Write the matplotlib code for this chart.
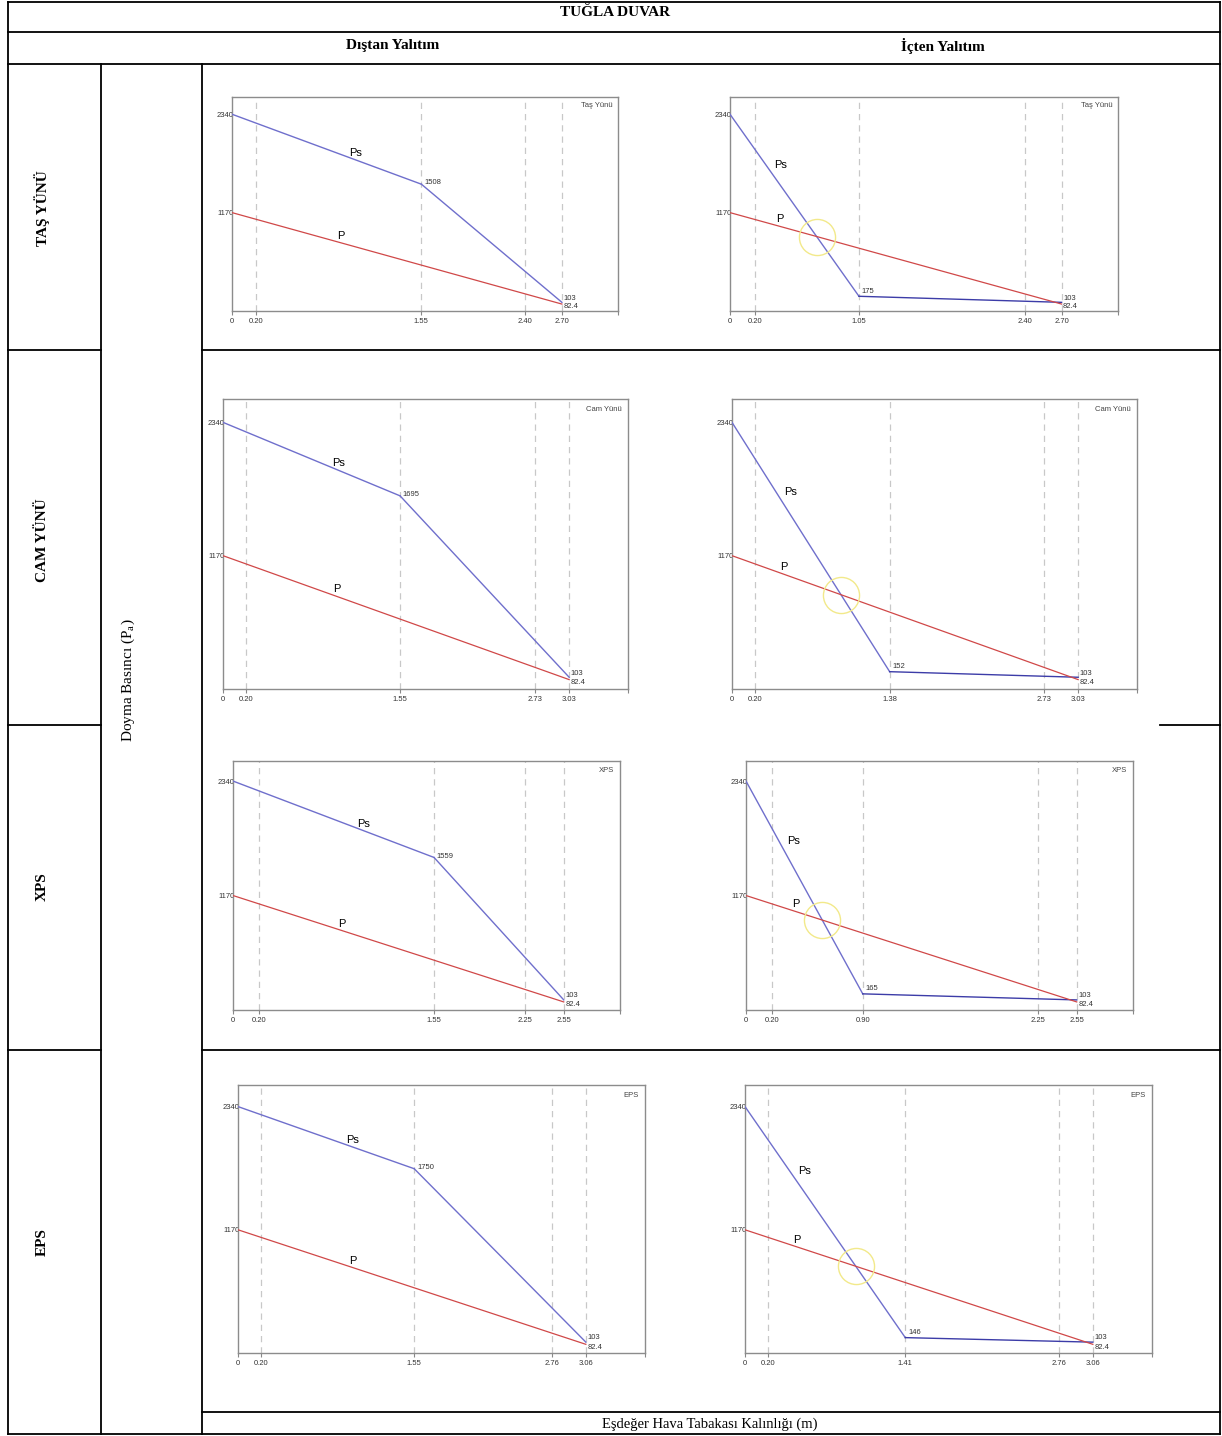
import numpy as np
import matplotlib
matplotlib.use("Agg")
import matplotlib.pyplot as plt
from matplotlib.lines import Line2D

plt.rcParams['font.family'] = ['Liberation Sans', 'DejaVu Sans']
plt.rcParams['mathtext.fontset'] = 'custom'
plt.rcParams['mathtext.rm'] = 'Liberation Serif'

# data
title = 'TUĞLA DUVAR'
col_titles = ['Dıştan Yalıtım', 'İçten Yalıtım']
row_labels = ['TAŞ YÜNÜ', 'CAM YÜNÜ', 'XPS', 'EPS']
materials = ['Taş Yünü', 'Cam Yünü', 'XPS', 'EPS']
ylabel = 'Doyma Basıncı (P$_\\mathrm{a}$)'
xlabel = 'Eşdeğer Hava Tabakası Kalınlığı (m)'

ps_start = 2340
p_start = 1170
ps_end = 103
p_end = 82.4

dis_ticks = [[0, 0.20, 1.55, 2.40, 2.70],
             [0, 0.20, 1.55, 2.73, 3.03],
             [0, 0.20, 1.55, 2.25, 2.55],
             [0, 0.20, 1.55, 2.76, 3.06]]
dis_knee = [1508, 1695, 1559, 1750]

ic_ticks = [[0, 0.20, 1.05, 2.40, 2.70],
            [0, 0.20, 1.38, 2.73, 3.03],
            [0, 0.20, 0.90, 2.25, 2.55],
            [0, 0.20, 1.41, 2.76, 3.06]]
ic_knee = [175, 152, 165, 146]

W, H = 1222, 1436
fig = plt.figure(figsize=(W / 100, H / 100), dpi=100)

def px_line(x0, y0, x1, y1):
    fig.add_artist(Line2D([x0 / W, x1 / W], [1 - y0 / H, 1 - y1 / H],
                          transform=fig.transFigure, color='black', lw=1.3))

def px_text(x, y, s, **kw):
    fig.text(x / W, 1 - y / H, s, ha='center', va='center', **kw)

# table frame
for y in [2, 32, 64, 1434]:
    px_line(8, y, 1220, y)
for y in [350, 725, 1050]:
    px_line(8, y, 101, y)
px_line(202, 350, 1220, 350)
px_line(1160, 725, 1220, 725)
px_line(202, 1050, 1220, 1050)
px_line(202, 1412, 1220, 1412)
px_line(8, 2, 8, 1434)
px_line(1220, 2, 1220, 1434)
px_line(101, 64, 101, 1434)
px_line(202, 64, 202, 1434)

serif = ['Liberation Serif', 'DejaVu Serif']
px_text(615, 13, title, family=serif, weight='bold', fontsize=11)
px_text(393, 46, col_titles[0], family=serif, weight='bold', fontsize=11)
px_text(943, 46, col_titles[1], family=serif, weight='bold', fontsize=11)
for lab, yc in zip(row_labels, [208, 540, 887, 1242]):
    px_text(42, yc, lab, family=serif, weight='bold', fontsize=11, rotation=90)
px_text(128, 680, ylabel, family=serif, fontsize=11, rotation=90)
px_text(710, 1424, xlabel, family=serif, fontsize=10.5)

# axes boxes in pixels: left, top, right, bottom
boxes = [[(232, 97, 618, 311), (730, 97, 1118, 311)],
         [(223, 399, 628, 689), (732, 399, 1137, 689)],
         [(233, 761, 620, 1010), (746, 761, 1133, 1010)],
         [(238, 1085, 645, 1353), (745, 1085, 1152, 1353)]]

blue = '#6f6fcc'
navy = '#3c3ca8'
red = '#d04848'
small = 5.5


def draw(ax, ticks, knee, material, inside):
    xend = ticks[-1]
    xk = ticks[2]
    ax.plot([0, xk], [ps_start, knee], color=blue, lw=1.0, zorder=3)
    ax.plot([xk, xend], [knee, ps_end], color=navy if inside else blue, lw=1.0, zorder=3)
    ax.plot([0, xend], [p_start, p_end], color=red, lw=0.9, zorder=3)
    for t in ticks[1:]:
        ax.axvline(t, color='#c8c8c8', lw=0.9, ls=(0, (5, 4)), zorder=1)
    ax.set_xlim(0, xend * 1.17)
    ax.set_ylim(0, 2545)
    xt = ticks + [xend * 1.17]
    ax.set_xticks(xt)
    ax.set_xticklabels(['0'] + ['%.2f' % t for t in ticks[1:]] + [''])
    ax.set_yticks([p_start, ps_start])
    ax.set_yticklabels([str(p_start), str(ps_start)])
    ax.tick_params(axis='x', length=3, width=0.8, color='#888888',
                   labelsize=small, labelcolor='#333333', pad=2)
    ax.tick_params(axis='y', length=0, labelsize=small, labelcolor='#333333', pad=-1)
    for s in ax.spines.values():
        s.set_color('#8c8c8c')
        s.set_linewidth(1.0)
    ax.text(0.985, 0.975, material, transform=ax.transAxes, ha='right', va='top',
            fontsize=small, color='#444444')
    # value labels
    ax.annotate(str(knee), (xk, knee), xytext=(2, 1), textcoords='offset points',
                fontsize=small, color='#333333', va='bottom' if inside else 'center')
    ax.annotate(str(ps_end), (xend, ps_end), xytext=(1, 0.5), textcoords='offset points',
                fontsize=small, color='#333333', va='bottom')
    ax.annotate(str(p_end), (xend, p_end), xytext=(1, 0.5), textcoords='offset points',
                fontsize=small, color='#333333', va='top')
    # curve names
    if inside:
        f = 0.28
        ax.annotate('Ps', (xk * f, ps_start + (knee - ps_start) * f), xytext=(6, 0),
                    textcoords='offset points', fontsize=8, ha='left', va='center')
        f = 0.15
        ax.annotate('P', (xend * f, p_start + (p_end - p_start) * f), xytext=(0, 1.5),
                    textcoords='offset points', fontsize=8, ha='center', va='bottom')
        # intersection of first Ps segment with P line
        m1 = (knee - ps_start) / xk
        m2 = (p_end - p_start) / xend
        xi = (p_start - ps_start) / (m1 - m2)
        yi = ps_start + m1 * xi
        ax.plot([xi], [yi], marker='o', ms=26, mfc='none', mec='#f2e98a', mew=1.0,
                zorder=4)
    else:
        f = 0.65
        ax.annotate('Ps', (xk * f, ps_start + (knee - ps_start) * f), xytext=(0, 1.5),
                    textcoords='offset points', fontsize=8, ha='center', va='bottom')
        f = 0.33
        ax.annotate('P', (xend * f, p_start + (p_end - p_start) * f), xytext=(0, 1.5),
                    textcoords='offset points', fontsize=8, ha='center', va='bottom')


for r in range(4):
    for c in range(2):
        l, t, rr, b = boxes[r][c]
        ax = fig.add_axes([l / W, 1 - b / H, (rr - l) / W, (b - t) / H])
        if c == 0:
            draw(ax, dis_ticks[r], dis_knee[r], materials[r], False)
        else:
            draw(ax, ic_ticks[r], ic_knee[r], materials[r], True)

fig.savefig('out.png', dpi=100)
